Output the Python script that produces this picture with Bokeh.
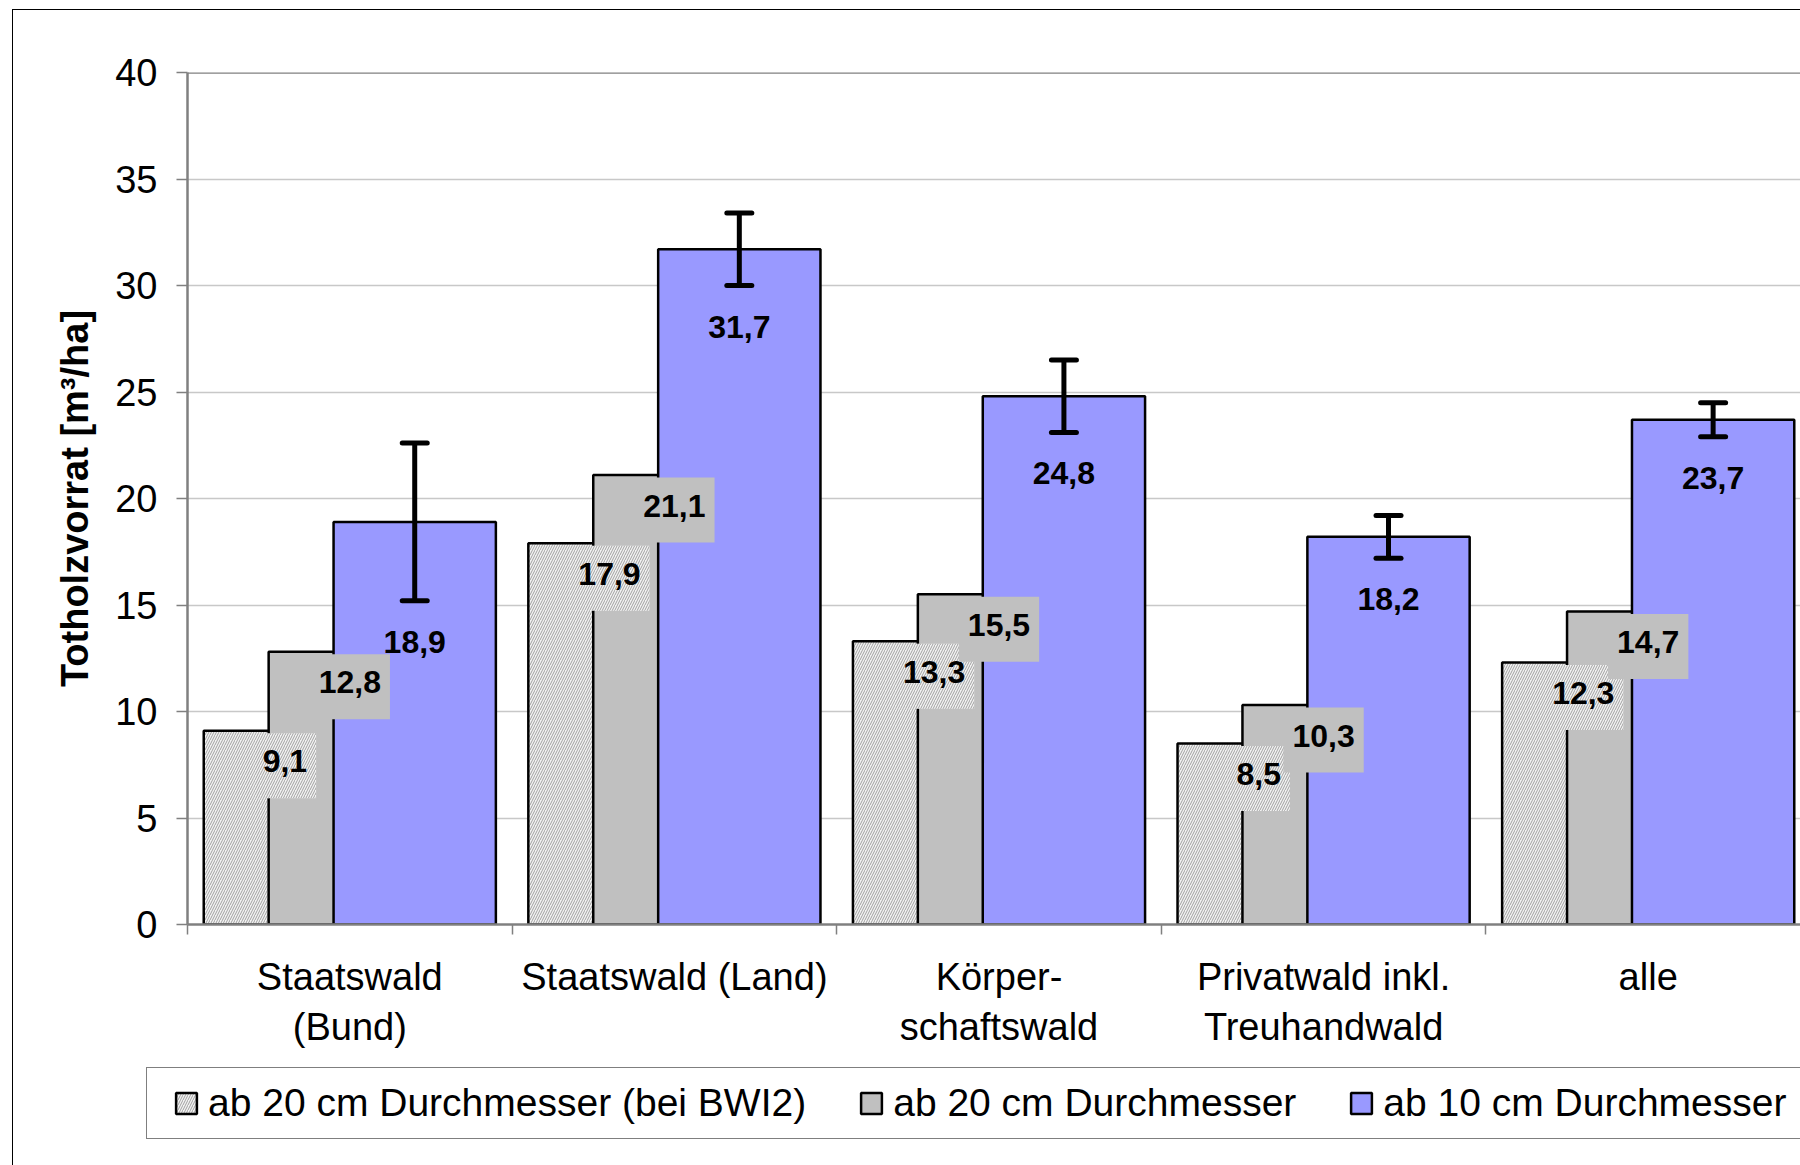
from bokeh.plotting import figure
from bokeh.models import (Range1d, FixedTicker, Whisker, TeeHead, ColumnDataSource,
                          Legend, LegendItem, Span)
from bokeh.embed import file_html
from bokeh.resources import INLINE
from bokeh.core.properties import value

# ---------------- data ----------------
categories = ["Staatswald\n(Bund)", "Staatswald (Land)", "Körper-\nschaftswald",
              "Privatwald inkl.\nTreuhandwald", "alle"]
series_names = ["ab 20 cm Durchmesser (bei BWI2)", "ab 20 cm Durchmesser", "ab 10 cm Durchmesser"]
bwi2_20cm = [9.1, 17.9, 13.3, 8.5, 12.3]
bwi3_20cm = [12.8, 21.1, 15.5, 10.3, 14.7]
bwi3_10cm = [18.9, 31.7, 24.8, 18.2, 23.7]
err_10cm = [3.7, 1.7, 1.7, 1.0, 0.8]
y_ticks = [0, 5, 10, 15, 20, 25, 30, 35, 40]
y_title = "Totholzvorrat [m³/ha]"

# ---------------- layout ----------------
FONT = "Liberation Sans"
W, H = 1800, 1165
H_MAIN = 1060
FL, FT, FB = 187, 72, 924
UNIT = 324.6
n = len(categories)
x_end = (W - FL) / UNIT

css_main = [
    ":host {position: relative;}",
    ":host::before {content:''; position:absolute; left:12px; top:9px; right:0; bottom:0;"
    " border-left:1.5px solid #000; border-top:1.5px solid #000; pointer-events:none; z-index:5;}",
]
css_leg = [
    ":host {position: relative;}",
    ":host::before {content:''; position:absolute; left:12px; top:0; right:0; bottom:0;"
    " border-left:1.5px solid #000; pointer-events:none; z-index:5;}",
    ":host::after {content:''; position:absolute; left:146px; top:7px; right:0; height:70px;"
    " border-left:1.5px solid #7f7f7f; border-top:1.5px solid #7f7f7f; border-bottom:1.5px solid #7f7f7f;"
    " pointer-events:none; z-index:5;}",
]

p = figure(width=W, height=H_MAIN, output_backend="svg", toolbar_location=None,
           x_range=Range1d(0, x_end), y_range=Range1d(0, 40),
           min_border_left=FL, min_border_top=FT, min_border_bottom=H_MAIN - FB,
           min_border_right=0, stylesheets=css_main)
p.outline_line_color = None
p.background_fill_color = "white"
p.border_fill_color = "white"

def fmt(v):
    return f"{v:.1f}".replace(".", ",")

offsets = [-0.2, 0.0, 0.2]
xs = [[i + 0.5 + off for i in range(n)] for off in offsets]
series = [bwi2_20cm, bwi3_20cm, bwi3_10cm]

HATCH = dict(fill_color="#f2f2f2", hatch_pattern="/", hatch_color="#a0a0a0",
             hatch_scale=5, hatch_weight=1)
STYLES = [dict(line_color="black", line_width=2.5, **HATCH),
          dict(fill_color="#c0c0c0", line_color="black", line_width=2.5),
          dict(fill_color="#9999ff", line_color="black", line_width=2.5)]

for xv, sv, st in zip(xs, series, STYLES):
    p.vbar(x=xv, top=sv, width=0.5, bottom=0, **st)

# value labels
lab_common = dict(text_align="center", text_baseline="middle", text_font=value(FONT),
                  text_font_style="bold", text_font_size="32px", text_color="black")
pad = dict(left=9, right=9, top=17, bottom=26)
p.text(x=xs[0], y=bwi2_20cm, text=[fmt(v) for v in bwi2_20cm], y_offset=35,
       background_fill_color=HATCH["fill_color"], background_hatch_pattern="/",
       background_hatch_color=HATCH["hatch_color"], background_hatch_scale=HATCH["hatch_scale"],
       background_hatch_weight=1, padding=pad, **lab_common)
p.text(x=xs[1], y=bwi3_20cm, text=[fmt(v) for v in bwi3_20cm], y_offset=35,
       background_fill_color="#c0c0c0", padding=pad, **lab_common)
lower = [v - e for v, e in zip(bwi3_10cm, err_10cm)]
upper = [v + e for v, e in zip(bwi3_10cm, err_10cm)]
p.text(x=xs[2], y=lower, text=[fmt(v) for v in bwi3_10cm], y_offset=41, **lab_common)

# error bars
esrc = ColumnDataSource(dict(base=xs[2], lower=lower, upper=upper))
p.add_layout(Whisker(base="base", lower="lower", upper="upper", source=esrc, level="overlay",
                     line_width=5, line_color="black",
                     upper_head=TeeHead(size=25, line_width=5, line_color="black", line_cap="round"),
                     lower_head=TeeHead(size=25, line_width=5, line_color="black", line_cap="round")))

# top border of plot area
p.add_layout(Span(location=40, dimension="width", line_color="#808080", line_width=2.5))

# y axis
p.yaxis.ticker = FixedTicker(ticks=y_ticks)
p.yaxis.axis_label = y_title
p.yaxis.axis_label_text_font = FONT
p.yaxis.axis_label_text_font_style = "bold"
p.yaxis.axis_label_text_font_size = "38px"
p.yaxis.axis_label_text_color = "black"
p.yaxis.axis_label_standoff = 16
p.yaxis.major_label_text_font = FONT
p.yaxis.major_label_text_font_size = "38px"
p.yaxis.major_label_text_color = "black"
p.yaxis.major_label_standoff = 19
p.yaxis.major_tick_out = 11
p.yaxis.major_tick_in = 0
p.yaxis.major_tick_line_color = "#808080"
p.yaxis.major_tick_line_width = 1.5
p.yaxis.minor_tick_line_color = None
p.yaxis.axis_line_color = "#808080"
p.yaxis.axis_line_width = 2.5

p.ygrid.grid_line_color = "#c8c8c8"
p.ygrid.grid_line_width = 1.5
p.xgrid.grid_line_color = None

# x axis: labels at category centres, tick marks at boundaries
centres = [i + 0.5 for i in range(n)]
p.xaxis.ticker = FixedTicker(ticks=centres, minor_ticks=list(range(n + 1)))
p.xaxis.major_label_overrides = {c: lab for c, lab in zip(centres, categories)}
p.xaxis.major_label_text_font = FONT
p.xaxis.major_label_text_font_size = "38px"
p.xaxis.major_label_text_color = "black"
p.xaxis.major_label_standoff = 21
p.xaxis.major_tick_out = 0
p.xaxis.major_tick_in = 0
p.xaxis.major_tick_line_color = None
p.xaxis.minor_tick_out = 10
p.xaxis.minor_tick_in = 0
p.xaxis.minor_tick_line_color = "#808080"
p.xaxis.minor_tick_line_width = 1.5
p.xaxis.axis_line_color = "#808080"
p.xaxis.axis_line_width = 2.5

# legend strip: a second root underneath; its own bars are muted (fully transparent),
# only the legend swatches and labels are shown. The box is drawn by the stylesheet.
pl = figure(width=W, height=H - H_MAIN, output_backend="svg", toolbar_location=None,
            x_axis_type=None, y_axis_type=None, x_range=Range1d(0, x_end),
            y_range=Range1d(0, 40), min_border=0, min_border_left=0, min_border_right=0,
            min_border_top=0, min_border_bottom=0, stylesheets=css_leg)
pl.outline_line_color = None
pl.background_fill_color = "white"
pl.border_fill_color = "white"
lr = []
for xv, sv, st in zip(xs, series, STYLES):
    r = pl.vbar(x=xv, top=sv, width=0.5, bottom=0, muted_alpha=0, **st)
    r.muted = True
    lr.append(r)
legend = Legend(items=[LegendItem(label=s, renderers=[r]) for s, r in zip(series_names, lr)],
                orientation="horizontal", location=(173, 40),
                glyph_width=26, glyph_height=26, label_standoff=9, spacing=52,
                padding=0, margin=0, border_line_alpha=0, background_fill_alpha=0,
                label_text_font=FONT, label_text_font_size="39px", label_text_color="black")
pl.add_layout(legend, "center")

open("out.html", "w").write(file_html([p, pl], INLINE))
